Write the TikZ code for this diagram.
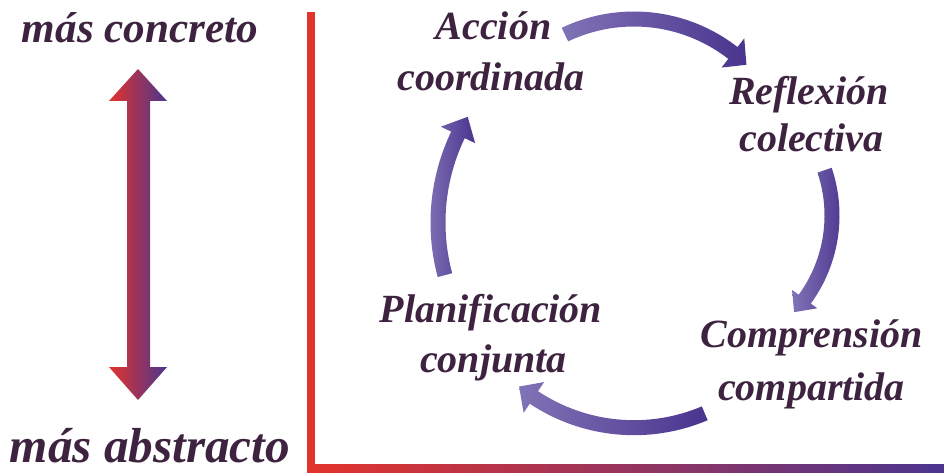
\documentclass[tikz,border=0pt]{standalone}
\usepackage{fontspec}
\setmainfont{Liberation Serif}
\usepackage{graphicx}

\definecolor{ink}{RGB}{62,35,64}
\definecolor{axisred}{RGB}{227,52,43}
\definecolor{axismid}{RGB}{176,56,86}
\definecolor{axispurple}{RGB}{75,53,144}
\definecolor{cyclight}{RGB}{128,115,182}
\definecolor{cycdark}{RGB}{74,52,142}

% text line scaled to a given width
\newcommand{\wtext}[2]{\resizebox{#1pt}{!}{#2}}

% curved cycle arrow: centre coordinate, radius, tail angle,
% head-base angle, tip angle, head width
\newcommand{\cyclearrow}[6]{%
  \begin{scope}[shift={(#1)}]
    \pgfmathsetmacro{\ro}{#2+7.5}
    \pgfmathsetmacro{\ri}{#2-7.5}
    \pgfmathsetmacro{\ho}{#2+#6/2}
    \pgfmathsetmacro{\hi}{#2-#6/2}
    \shade[left color=cyclight, right color=cycdark]
      (#3:\ro) arc[start angle=#3, end angle=#4, radius=\ro]
      -- (#4:\ho) -- (#5:#2) -- (#4:\hi) -- (#4:\ri)
      arc[start angle=#4, end angle=#3, radius=\ri] -- cycle;
  \end{scope}}

\tikzset{
  lbl/.style={text=ink, inner sep=0pt, anchor=base, font=\bfseries\itshape},
  stage/.style={lbl, font=\fontsize{40}{48}\selectfont\bfseries\itshape},
}

\begin{document}
\begin{tikzpicture}[x=1pt, y=1pt]
  \fill[white] (0,0) rectangle (944,472);
  \useasboundingbox (0,0) rectangle (944,472);

  % axes
  \fill[axisred] (307,0) rectangle (315,460);
  \shade[left color=axisred, right color=axispurple] (307,0) rectangle (944,8);

  % concrete <-> abstract double arrow
  \shade[left color=axisred, middle color=axismid, right color=axispurple]
    (138,403) -- (167,371) -- (150,371) -- (150,105) -- (167,105)
    -- (138,72) -- (109,105) -- (127,105) -- (127,371) -- (109,371) -- cycle;

  \node[lbl] (concreto)  at (140,429) {\wtext{236}{más concreto}};
  \node[lbl] (abstracto) at (150,10)  {\wtext{280}{más abstracto}};

  % cycle labels
  \node[stage] (accionA) at (493.5,432) {Acción};
  \node[stage] (accionB) at (491,381)   {coordinada};
  \node[stage] (reflexA) at (809,367)   {Reflexión};
  \node[stage] (reflexB) at (811.5,320) {colectiva};
  \node[stage] (comprA)  at (811.5,125) {Comprensión};
  \node[stage] (comprB)  at (811.5,72)  {compartida};
  \node[stage] (planA)   at (491,150)   {Planificación};
  \node[stage] (planB)   at (493.5,100) {conjunta};

  % centres of the cycle arcs
  \coordinate (arcTop)    at (634,292);
  \coordinate (arcRight)  at (690,256.5);
  \coordinate (arcBottom) at (634,225.3);
  \coordinate (arcLeft)   at (641,249.4);

  \cyclearrow{arcTop}{161}{115.4}{52.1}{45.7}{37}
  \cyclearrow{arcRight}{142}{18.6}{-36.1}{-42.9}{31}
  \cyclearrow{arcBottom}{181}{-67}{-123.6}{-129.4}{37}
  \cyclearrow{arcLeft}{203}{195}{154.4}{148.6}{38}
\end{tikzpicture}
\end{document}
